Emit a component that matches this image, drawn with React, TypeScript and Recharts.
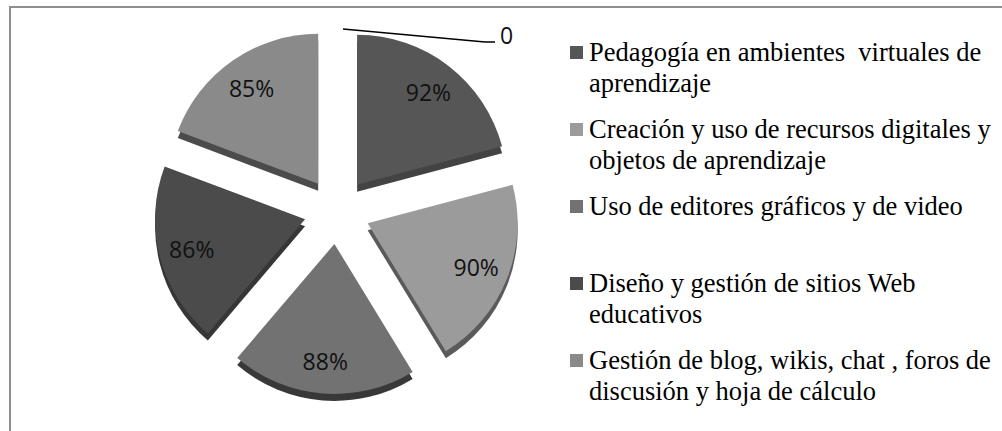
import { PieChart, Pie, Cell, Legend, Sector } from 'recharts';

// categories in legend order; the last one is the empty "0" slice
const categories = [
  'Pedagogía en ambientes  virtuales de aprendizaje',
  'Creación y uso de recursos digitales y objetos de aprendizaje',
  'Uso de editores gráficos y de video',
  'Diseño y gestión de sitios Web educativos',
  'Gestión de blog, wikis, chat , foros de discusión y hoja de cálculo',
  '',
];
const values = [92, 90, 88, 86, 85, 0];
const topColors = ['#565656', '#9b9b9b', '#727272', '#4b4b4b', '#8a8a8a', '#000000'];
const sideColors = ['#434343', '#5a5a5a', '#383838', '#363636', '#4b4b4b', '#000000'];

const data = categories.map((name, i) => ({ name, value: values[i] }));

const EXPLODE = 33;
const DEPTH = 7;
const RADIAN = Math.PI / 180;

// exploded slice with a darker side face to fake the 3D look
function ExplodedSector(props: any) {
  const { cx, cy, midAngle, innerRadius, outerRadius, startAngle, endAngle, fill } = props;
  if (startAngle === endAngle) return <g />;
  const ex = cx + EXPLODE * Math.cos(-midAngle * RADIAN);
  const ey = cy + EXPLODE * Math.sin(-midAngle * RADIAN);
  const side = sideColors[topColors.indexOf(fill)] ?? '#333';
  const common = { innerRadius, outerRadius, startAngle, endAngle, stroke: 'none' };
  return (
    <g>
      <Sector {...common} cx={ex} cy={ey + DEPTH} fill={side} />
      <Sector {...common} cx={ex} cy={ey} fill={fill} />
    </g>
  );
}

function renderLabel(props: any) {
  const { cx, cy, midAngle, outerRadius, value } = props;
  const cos = Math.cos(-midAngle * RADIAN);
  const sin = Math.sin(-midAngle * RADIAN);
  const font = { fontFamily: '"Open Sans", "Liberation Sans", sans-serif', fontSize: 23, fill: '#111' };
  if (value === 0) {
    const sx = cx + (outerRadius + EXPLODE) * cos + 6;
    const sy = cy + (outerRadius + EXPLODE) * sin + 1;
    return (
      <g>
        <path d={`M${sx},${sy}L${sx + 142},${sy + 13}h10`} stroke="#000" strokeWidth={1.3} fill="none" />
        <text x={sx + 157} y={sy + 6} dominantBaseline="central" {...font}>
          {value}
        </text>
      </g>
    );
  }
  const r = EXPLODE + outerRadius * 0.78;
  return (
    <text x={cx + r * cos} y={cy + r * sin} textAnchor="middle" dominantBaseline="central" {...font}>
      {`${value}%`}
    </text>
  );
}

function LegendContent(props: any) {
  const items = (props.payload || [])
    .filter((e: any) => e.value)
    .sort((a: any, b: any) => categories.indexOf(a.value) - categories.indexOf(b.value));
  return (
    <div style={{ fontFamily: '"Times New Roman", "Liberation Serif", serif', fontSize: 26.5, lineHeight: '31px', color: '#000' }}>
      {items.map((e: any, i: number) => (
        <div key={i} style={{ position: 'relative', height: 77, paddingLeft: 24 }}>
          <span style={{ position: 'absolute', left: 5, top: 9.5, width: 13, height: 13, background: e.color }} />
          <div style={{ whiteSpace: 'pre-wrap', width: 412 }}>{e.value}</div>
        </div>
      ))}
    </div>
  );
}

export default function App() {
  return (
    <div style={{ position: 'fixed', left: 0, top: 0, width: 1002, height: 431, overflow: 'hidden', background: '#fff' }}>
      <div
        style={{
          position: 'absolute',
          left: 9,
          top: 6,
          width: 1100,
          height: 500,
          border: '2px solid #8e8e8e',
          boxSizing: 'border-box',
        }}
      />
      <div style={{ position: 'absolute', left: 0, top: 0 }}>
        <PieChart width={1002} height={431} margin={{ top: 0, right: 0, bottom: 0, left: 0 }}>
          <Pie
            data={data}
            dataKey="value"
            nameKey="name"
            cx={337}
            cy={211}
            outerRadius={150}
            startAngle={90}
            endAngle={-270}
            stroke="none"
            label={renderLabel}
            labelLine={false}
            isAnimationActive={false}
            {...({ shape: ExplodedSector } as any)}
            activeShape={ExplodedSector}
            inactiveShape={ExplodedSector}
          >
            {data.map((d, i) => (
              <Cell key={d.name + i} fill={topColors[i]} />
            ))}
          </Pie>
          <Legend
            layout="vertical"
            align="right"
            verticalAlign="top"
            itemSorter={null as any}
            content={LegendContent}
            wrapperStyle={{ position: 'absolute', left: 565, top: 36.5, width: 437 }}
          />
        </PieChart>
      </div>
    </div>
  );
}
